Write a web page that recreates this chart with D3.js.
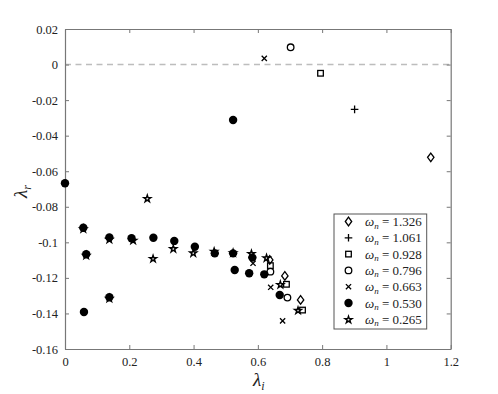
<!DOCTYPE html>
<html><head><meta charset="utf-8">
<script src="https://cdn.jsdelivr.net/npm/d3@7"></script>
<style>body{margin:0;background:#fff}svg{display:block}text{font-family:"Liberation Serif","DejaVu Serif",serif}</style>
</head><body>
<svg id="c" width="498" height="394"></svg>
<script>
const xTicks=[0,0.2,0.4,0.6,0.8,1,1.2];
const xTickLabels=["0","0.2","0.4","0.6","0.8","1","1.2"];
const yTicks=[0.02,0,-0.02,-0.04,-0.06,-0.08,-0.1,-0.12,-0.14,-0.16];
const yTickLabels=["0.02","0","-0.02","-0.04","-0.06","-0.08","-0.1","-0.12","-0.14","-0.16"];
const seriesNames=["1.326","1.061","0.928","0.796","0.663","0.530","0.265"];
const seriesMarkers=["diamond","plus","square","circle","cross","dot","star"];
// series values (lambda_i, lambda_r)
const s1326x=[0.637,0.684,0.733,1.138];
const s1326y=[-0.1099,-0.1189,-0.1324,-0.0522];
const s1061x=[0.901];
const s1061y=[-0.0252];
const s0928x=[0.795,0.639,0.689,0.739];
const s0928y=[-0.0049,-0.1131,-0.1236,-0.1381];
const s0796x=[0.702,0.639,0.692];
const s0796y=[0.0097,-0.1165,-0.1311];
const s0663x=[0.620,0.585,0.640,0.677];
const s0663y=[0.0035,-0.1118,-0.1253,-0.1442];
const s0530x=[0,0.057,0.066,0.059,0.138,0.138,0.207,0.275,0.340,0.404,0.466,0.523,0.583,0.523,0.528,0.573,0.620,0.668];
const s0530y=[-0.0668,-0.0918,-0.1067,-0.1392,-0.0972,-0.1309,-0.0977,-0.0974,-0.0992,-0.1025,-0.1062,-0.1062,-0.1086,-0.0312,-0.1156,-0.1174,-0.1180,-0.1296];
const s0265x=[0.057,0.066,0.138,0.138,0.212,0.256,0.274,0.337,0.399,0.464,0.523,0.580,0.627,0.670,0.725];
const s0265y=[-0.0922,-0.1071,-0.0981,-0.1313,-0.0987,-0.0752,-0.1090,-0.1034,-0.1058,-0.1049,-0.1057,-0.1062,-0.1086,-0.1236,-0.1381];
const seriesX=[s1326x,s1061x,s0928x,s0796x,s0663x,s0530x,s0265x];
const seriesY=[s1326y,s1061y,s0928y,s0796y,s0663y,s0530y,s0265y];

const svg=d3.select("#c");
const L=65,R=450.7,T=29,B=349;
const x=d3.scaleLinear().domain([0,1.2]).range([L,R]);
const y=d3.scaleLinear().domain([-0.16,0.02]).range([B,T]);
const axCol="#777", txt="#222";

// dashed zero line
svg.append("line").attr("x1",L).attr("x2",R).attr("y1",y(0)).attr("y2",y(0))
  .attr("stroke","#bdbdbd").attr("stroke-width",1.5).attr("stroke-dasharray","6,4.5");

// axes
function styleAx(g){g.attr("font-family",null);
  g.select(".domain").attr("stroke",axCol).attr("stroke-width",1.2);
  g.selectAll(".tick line").attr("stroke",axCol).attr("stroke-width",1);
  g.selectAll(".tick text").attr("fill",txt).attr("font-size",12.5);}
const gb=svg.append("g").attr("transform",`translate(0,${B})`)
  .call(d3.axisBottom(x).tickValues(xTicks).tickFormat((d,i)=>xTickLabels[i]).tickSizeInner(-4).tickSizeOuter(0).tickPadding(8));
styleAx(gb);
const gt=svg.append("g").attr("transform",`translate(0,${T})`)
  .call(d3.axisTop(x).tickValues(xTicks).tickFormat("").tickSizeInner(-4).tickSizeOuter(0));
styleAx(gt);
const gl=svg.append("g").attr("transform",`translate(${L},0)`)
  .call(d3.axisLeft(y).tickValues(yTicks).tickFormat((d,i)=>yTickLabels[i]).tickSizeInner(-4).tickSizeOuter(0).tickPadding(7));
styleAx(gl);
const gr=svg.append("g").attr("transform",`translate(${R},0)`)
  .call(d3.axisRight(y).tickValues(yTicks).tickFormat("").tickSizeInner(-4).tickSizeOuter(0));
styleAx(gr);

// markers
function drawMarker(g,type,cx,cy){
  const sw=1.3;
  if(type==="diamond"){
    g.append("path").attr("d",`M${cx},${cy-4.3}L${cx+3.2},${cy}L${cx},${cy+4.3}L${cx-3.2},${cy}Z`).attr("fill","none").attr("stroke","#000").attr("stroke-width",sw);
  }else if(type==="plus"){
    g.append("path").attr("d",`M${cx-3.8},${cy}H${cx+3.8}M${cx},${cy-3.8}V${cy+3.8}`).attr("stroke","#000").attr("stroke-width",sw);
  }else if(type==="square"){
    g.append("rect").attr("x",cx-2.8).attr("y",cy-2.8).attr("width",5.6).attr("height",5.6).attr("fill","none").attr("stroke","#000").attr("stroke-width",sw);
  }else if(type==="circle"){
    g.append("circle").attr("cx",cx).attr("cy",cy).attr("r",3.3).attr("fill","none").attr("stroke","#000").attr("stroke-width",sw);
  }else if(type==="cross"){
    g.append("path").attr("d",`M${cx-2.6},${cy-2.6}L${cx+2.6},${cy+2.6}M${cx-2.6},${cy+2.6}L${cx+2.6},${cy-2.6}`).attr("stroke","#000").attr("stroke-width",sw);
  }else if(type==="dot"){
    g.append("circle").attr("cx",cx).attr("cy",cy).attr("r",4.2).attr("fill","#000");
  }else if(type==="star"){
    g.append("path").attr("d",d3.symbol(d3.symbolStar,15)()).attr("transform",`translate(${cx},${cy+0.5})`)
      .attr("fill","none").attr("stroke","#000").attr("stroke-width",1.4).attr("stroke-linejoin","miter");
  }
}
const pts=svg.append("g");
seriesNames.forEach((n,i)=>{
  seriesX[i].forEach((xv,j)=>drawMarker(pts,seriesMarkers[i],x(xv),y(seriesY[i][j])));
});

// legend
const lg=svg.append("g");
lg.append("rect").attr("x",334).attr("y",214).attr("width",92.7).attr("height",115).attr("fill","#fff").attr("stroke","#555").attr("stroke-width",1);
seriesNames.forEach((n,i)=>{
  const cy=221.5+i*16.3;
  drawMarker(lg,seriesMarkers[i],348.5,cy);
  const t=lg.append("text").attr("x",365).attr("y",cy+4.5).attr("font-size",13).attr("fill",txt);
  t.append("tspan").attr("font-style","italic").text("ω");
  t.append("tspan").attr("font-style","italic").attr("font-size",9).attr("dy",2.5).text("n");
  t.append("tspan").attr("dy",-2.5).text(" = "+n);
});

// axis labels
const xl=svg.append("text").attr("x",253).attr("y",386).attr("font-size",19).attr("fill",txt);
xl.append("tspan").attr("font-style","italic").text("λ");
xl.append("tspan").attr("font-style","italic").attr("font-size",12).attr("dy",4).text("i");
const yl=svg.append("text").attr("transform","translate(27,198) rotate(-90)").attr("font-size",19).attr("fill",txt);
yl.append("tspan").attr("font-style","italic").text("λ");
yl.append("tspan").attr("font-style","italic").attr("font-size",12).attr("dy",4).text("r");
</script>
</body></html>
